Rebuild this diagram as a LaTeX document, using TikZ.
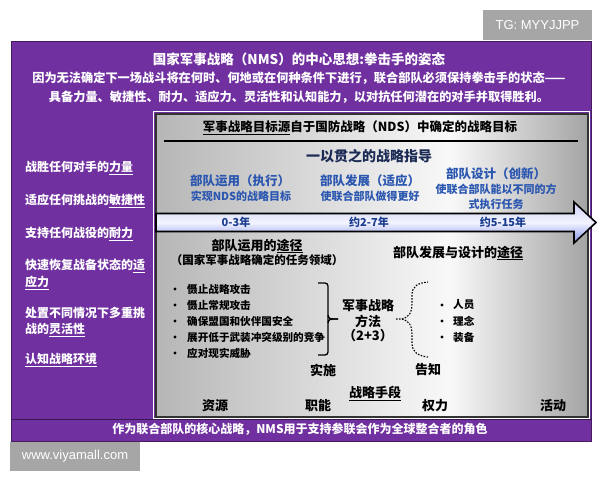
\documentclass[tikz,border=0pt]{standalone}
\usepackage{fontspec}
\setmainfont{Noto Sans CJK SC}
\newfontfamily\wmfont{Liberation Sans}
\definecolor{nmspurple}{HTML}{7030A0}
\definecolor{wmgray}{HTML}{A6A6A6}
\definecolor{colblue}{HTML}{2B57B0}
\definecolor{navy}{HTML}{1C2B55}
\definecolor{arrowtxt}{HTML}{1A3C8E}
\definecolor{panelgray}{HTML}{B6B6B6}
\definecolor{panelright}{HTML}{A4A4A4}
\definecolor{arrowtop}{HTML}{CBD0F6}
\definecolor{arrowmid}{HTML}{F3F4FF}
\definecolor{arrowbot}{HTML}{7F8FE6}
\tikzset{
  fs/.style={font=\fontsize{#1}{#1}\selectfont\bfseries},
  whitetxt/.style={text=white, fs=12},
  lefttxt/.style={whitetxt, anchor=west},
  bluetxt/.style={text=colblue, fs=12},
  bluesmall/.style={text=colblue, fs=11},
  blacktxt/.style={text=black, fs=13},
  itemtxt/.style={text=black, fs=10.6, anchor=west},
  yeartxt/.style={text=arrowtxt, fs=11},
  wmbox/.style={fill=wmgray, draw=none},
  wmtxt/.style={text=white, font=\wmfont\fontsize{13}{13}\selectfont},
}
\begin{document}
\begin{tikzpicture}[x=1pt,y=-1pt, every node/.style={inner sep=0pt}]
\useasboundingbox (0,0) rectangle (600,480);
\fill[white] (0,0) rectangle (600,480);

% watermark boxes
\fill[wmbox] (483,10) rectangle (592,40);
\node[wmtxt] (tg) at (537.5,25) {TG: MYYJJPP};
\fill[wmbox] (10,442) rectangle (140,471);
\node[wmtxt] (www) at (75,456) {www.viyamall.com};

% purple frame
\fill[nmspurple] (11,41) rectangle (591,441);
\draw[nmspurple!60!black, line width=0.8pt] (11,41) rectangle (591,441);

% title
\node[text=white, fs=13.5] (t1) at (299,59) {国家军事战略（NMS）的中心思想:拳击手的姿态};
\node[whitetxt, fs=12.2] (t2) at (299,78) {因为无法确定下一场战斗将在何时、何地或在何种条件下进行，联合部队必须保持拳击手的状态——};
\node[whitetxt, fs=12.2] (t3) at (299,97) {具备力量、敏捷性、耐力、适应力、灵活性和认知能力，以对抗任何潜在的对手并取得胜利。};

% left column
\node[lefttxt] (l1) at (25,168) {战胜任何对手的\underline{力量}};
\node[lefttxt] (l2) at (25,201) {适应任何挑战的\underline{敏捷性}};
\node[lefttxt] (l3) at (25,234) {支持任何战役的\underline{耐力}};
\node[lefttxt] (l4a) at (25,266) {快速恢复战备状态的\underline{适}};
\node[lefttxt] (l4b) at (25,283) {\underline{应力}};
\node[lefttxt] (l5a) at (25,313) {处置不同情况下多重挑};
\node[lefttxt] (l5b) at (25,330) {战的\underline{灵活性}};
\node[lefttxt] (l6) at (25,360) {\underline{认知战略环境}};

% gray panel
\draw[white, line width=1.5pt] (153.5,111.5) rectangle (589.5,418.5);
\shade[left color=panelgray, right color=white!95!gray] (156,114) rectangle (450,417);
\shade[left color=white!95!gray, right color=panelright] (450,114) rectangle (588,417);
\draw[black!80, line width=1.5pt] (156,114) rectangle (588,417);

% header
\node[text=black, fs=12.5] (hdr) at (360,128) {\underline{军事战略目标源}自于国防战略（NDS）中确定的战略目标};
\draw[black, line width=1.5pt] (164,141) -- (578,141);
\node[text=navy, fs=14] (guide) at (369,156) {一以贯之的战略指导};

% three columns
\node[bluetxt, fs=12.5] (c1a) at (240,181) {部队运用（执行）};
\node[bluesmall] (c1b) at (241,196) {实现NDS的战略目标};
\node[bluetxt, fs=12.5] (c2a) at (370,181) {部队发展（适应）};
\node[bluesmall] (c2b) at (370,196) {使联合部队做得更好};
\node[bluetxt, fs=12.5] (c3a) at (496,174) {部队设计（创新）};
\node[bluesmall] (c3b) at (496,189) {使联合部队能以不同的方};
\node[bluesmall] (c3c) at (496,204) {式执行任务};

% timeline arrow
\draw[black, line width=1.6pt, top color=arrowtop, bottom color=arrowbot, middle color=arrowmid]
  (156,213.5) -- (574,213.5) -- (574,202) -- (596,222.5) -- (574,243) -- (574,231.5) -- (156,231.5) -- cycle;
\node[yeartxt] (y1) at (236,222.5) {0-3年};
\node[yeartxt] (y2) at (369,222.5) {约2-7年};
\node[yeartxt] (y3) at (503,222.5) {约5-15年};

% lower section
\node[blacktxt] (w1) at (257,246) {部队运用的\underline{途径}};
\node[text=black, fs=11.5] (w1b) at (257,260) {（国家军事战略确定的任务领域）};
\node[blacktxt] (w2) at (458,253) {部队发展与设计的\underline{途径}};

\foreach \yy in {289,305,321,337,353} \fill[black] (175,\yy) circle (1.7);
\node[itemtxt] (i1) at (187,289) {慑止战略攻击};
\node[itemtxt] (i2) at (187,305) {慑止常规攻击};
\node[itemtxt] (i3) at (187,321) {确保盟国和伙伴国安全};
\node[itemtxt] (i4) at (187,337) {展开低于武装冲突级别的竞争};
\node[itemtxt] (i5) at (187,353) {应对现实威胁};

% solid brace
\draw[black, line width=1.3pt, rounded corners=3pt]
  (318,283) -- (328,283) -- (328,319) -- (328,355) -- (318,355);
\draw[black, line width=1.3pt] (328,315) .. controls (329,319) .. (338,319);
\draw[black, line width=1.3pt] (328,323) .. controls (329,319) .. (338,319);

\node[blacktxt] (m1) at (368,306) {军事战略};
\node[blacktxt] (m2) at (368,321) {方法};
\node[blacktxt] (m3) at (368,336) {（2+3）};

% dashed brace
\draw[black, line width=1.1pt, dash pattern=on 1.6pt off 1.4pt]
  (396,319) -- (402,319) .. controls (409,317) and (412,313) .. (412,303)
  -- (412,295) .. controls (412,286) and (418,283) .. (428,282);
\draw[black, line width=1.1pt, dash pattern=on 1.6pt off 1.4pt]
  (402,319) .. controls (409,321) and (412,325) .. (412,335)
  -- (412,343) .. controls (412,352) and (418,356) .. (428,357);

\foreach \yy in {305,321,337} \fill[black] (442,\yy) circle (1.7);
\node[itemtxt] (r1) at (453,305) {人员};
\node[itemtxt] (r2) at (453,321) {理念};
\node[itemtxt] (r3) at (453,337) {装备};

\node[blacktxt] (impl) at (323,370) {实施};
\node[blacktxt] (inf) at (428,370) {告知};
\node[blacktxt] (means) at (375,393) {\underline{战略手段}};
\node[blacktxt] (b1) at (215,406) {资源};
\node[blacktxt] (b2) at (318,406) {职能};
\node[blacktxt] (b3) at (435,406) {权力};
\node[blacktxt] (b4) at (553,406) {活动};

% bottom bar
\draw[nmspurple!50!black, line width=0.8pt] (11,419) -- (591,419);
\node[whitetxt, fs=12] (foot) at (300,429.5) {作为联合部队的核心战略，NMS用于支持参联会作为全球整合者的角色};
\end{tikzpicture}
\end{document}
